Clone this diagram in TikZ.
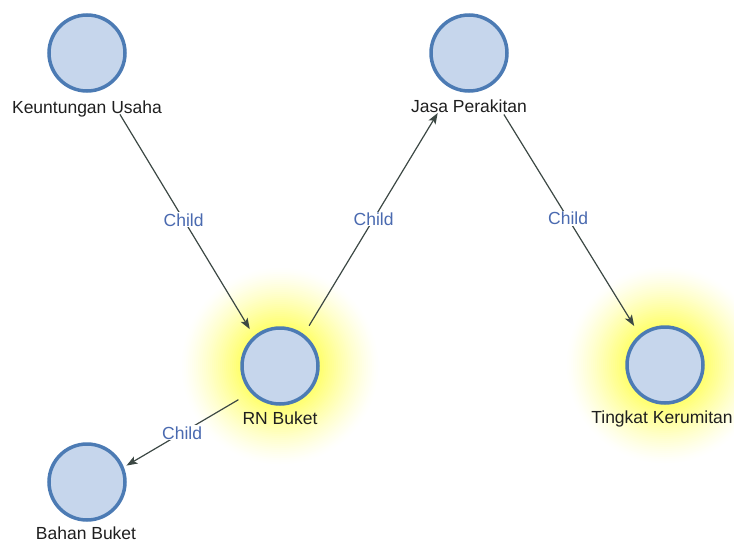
\documentclass[tikz,border=0pt]{standalone}
\usepackage{fontspec}
\setmainfont{Liberation Sans}
\usetikzlibrary{arrows.meta}

\definecolor{entfill}{RGB}{198,214,236}
\definecolor{entline}{RGB}{76,123,180}
\definecolor{linkcol}{RGB}{60,72,68}
\definecolor{childcol}{RGB}{74,106,176}
\definecolor{glowcol}{RGB}{255,255,96}

\begin{document}
\begin{tikzpicture}[x=1pt,y=-1pt,
  ent/.style={circle,draw=entline,fill=entfill,line width=3.5pt,minimum size=76pt,inner sep=0pt},
  lbl/.style={anchor=base,font=\fontsize{17.5}{20}\selectfont,text=black!88},
  relarrow/.style={draw=linkcol,line width=1.2pt,-{Stealth[length=11pt,width=8pt,inset=2.5pt]}},
  linklabel/.style={fill=white,inner sep=1pt,text=childcol,font=\fontsize{17.5}{20}\selectfont}]
  \useasboundingbox (0,0) rectangle (734,544);

  % Glow
  \foreach \cx/\cy in {280/366,665/365}
    \foreach \r in {100,98,...,36}{
      \pgfmathsetmacro\pct{100*((100-\r)/64)^1.3}
      \fill[glowcol!\pct!white] (\cx,\cy) circle[radius=\r];
    }

  % Nodes
  \node[ent] (keu) at (87,53) {};
  \node[ent] (jasa) at (469,53) {};
  \node[ent] (rn) at (280,366) {};
  \node[ent] (tingkat) at (665,365) {};
  \node[ent] (bahan) at (87,482) {};

  % Labels
  \node[lbl] (keulbl) at (87,113) {Keuntungan Usaha};
  \node[lbl] (jasalbl) at (469,112) {Jasa Perakitan};
  \node[lbl] (rnlbl) at (280,424) {RN Buket};
  \node[lbl] (tingkatlbl) at (662,423) {Tingkat Kerumitan};
  \node[lbl] (bahanlbl) at (86,539) {Bahan Buket};

  % Links
  \draw[relarrow,shorten <=30pt,shorten >=8pt] (keu.-64) -- (rn.131) node[linklabel,pos=0.53] {Child};
  \draw[relarrow,shorten <=10pt,shorten >=28pt] (rn.53) -- (jasa.-115) node[linklabel,pos=0.47] {Child};
  \draw[relarrow,shorten <=31pt,shorten >=10pt] (jasa.-62) -- (tingkat.130) node[linklabel,pos=0.53] {Child};
  \draw[relarrow,shorten <=14pt,shorten >=3pt] (rn.-138) -- (bahan.22) node[linklabel,pos=0.54] {Child};
\end{tikzpicture}
\end{document}
